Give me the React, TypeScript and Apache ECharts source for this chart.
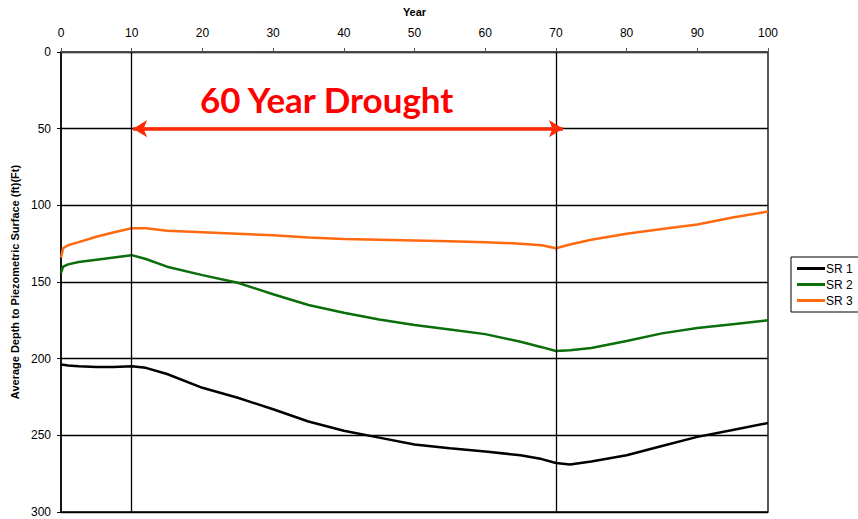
import React, { useEffect, useRef } from "react";
import * as echarts from "echarts";

const years = [0, 0.3, 1, 2.5, 5, 7.5, 10, 12, 15, 20, 25, 30, 35, 40, 45, 50, 55, 60, 65, 68, 70, 72, 75, 80, 85, 90, 95, 100];
const sr1 = [204, 204, 204.5, 205, 205.5, 205.5, 205, 206, 210, 219, 225.5, 233, 241, 247, 251.5, 256, 258.5, 260.5, 263, 265.5, 268, 269, 267, 263, 257, 251, 246.5, 242];
const sr2 = [144, 140, 138.5, 137, 135.5, 134, 132.5, 135, 140, 145.5, 150.5, 158, 165, 170, 174.5, 178, 181, 184, 189, 192.5, 195, 194.5, 193, 188.5, 183.5, 180, 177.5, 175];
const sr3 = [134, 128, 126, 124, 120.5, 117.5, 115, 115, 116.5, 117.5, 118.5, 119.5, 121, 122, 122.5, 123, 123.5, 124, 125, 126, 128, 125.5, 122.5, 118.5, 115.5, 112.5, 108, 104];
const seriesNames = ["SR 1", "SR 2", "SR 3"];
const seriesColors = ["#000000", "#0a6e0a", "#ff6a10"];
const droughtStart = 10;
const droughtEnd = 70;
const arrowLevel = 50;
const annotation = "60 Year Drought";

export default function App() {
  const ref = useRef<HTMLDivElement>(null);
  useEffect(() => {
    const chart = echarts.init(ref.current!, null, { renderer: "svg" });
    const all = [sr1, sr2, sr3];
    const series: any[] = all.map((vals, i) => ({
      name: seriesNames[i],
      type: "line",
      symbol: "none",
      data: years.map((y, k) => [y, vals[k]]),
      lineStyle: { color: seriesColors[i], width: 2.5 },
      itemStyle: { color: seriesColors[i] },
      z: 3,
    }));
    series.push({
      type: "line",
      data: [],
      markLine: {
        silent: true,
        symbol: "none",
        label: { show: false },
        lineStyle: { color: "#000", width: 1.3, type: "solid" },
        data: [{ xAxis: droughtStart }, { xAxis: droughtEnd }],
      },
      z: 2,
    });
    series.push({
      type: "line",
      data: [],
      markLine: {
        silent: true,
        symbol: ["arrow", "arrow"],
        symbolSize: [13, 14],
        label: { show: false },
        lineStyle: { color: "#ff2a00", width: 3.5, type: "solid" },
        data: [[{ coord: [droughtStart + 0.2, arrowLevel] }, { coord: [droughtEnd + 1, arrowLevel] }]],
      },
      z: 5,
    });
    chart.setOption({
      animation: false,
      backgroundColor: "#fff",
      grid: {
        left: 61,
        top: 52,
        right: 90,
        bottom: 7,
        show: true,
        borderColor: "#000",
        borderWidth: 1.3,
        containLabel: false,
        outerBoundsMode: "none",
      },
      legend: {
        data: seriesNames,
        orient: "vertical",
        left: 791,
        top: 257,
        borderColor: "#000",
        borderWidth: 1,
        padding: [5, 10, 5, 6],
        itemGap: 3,
        itemWidth: 28,
        itemHeight: 3,
        icon: "rect",
        textStyle: { fontFamily: "Liberation Sans", fontSize: 12, color: "#000", padding: [0, 0, 0, -4], lineHeight: 13 },
      },
      xAxis: {
        type: "value",
        position: "top",
        min: 0,
        max: 100,
        interval: 10,
        name: "Year",
        nameLocation: "middle",
        nameGap: 35,
        nameTextStyle: { fontFamily: "Liberation Sans", fontSize: 11, fontWeight: "bold", color: "#000" },
        axisLine: { show: true, lineStyle: { color: "#555", width: 1.5 } },
        axisTick: { show: true, inside: false, length: 4, lineStyle: { color: "#555" } },
        axisLabel: { fontFamily: "Liberation Sans", fontSize: 12, color: "#000", margin: 13 },
        splitLine: { show: false },
      },
      yAxis: {
        type: "value",
        inverse: true,
        min: 0,
        max: 300,
        interval: 50,
        name: "Average Depth to Piezometric Surface (ft)(Ft)",
        nameLocation: "middle",
        nameGap: 40,
        nameTextStyle: { fontFamily: "Liberation Sans", fontSize: 11, fontWeight: "bold", color: "#000" },
        axisLine: { show: true, lineStyle: { color: "#000", width: 1.5 } },
        axisTick: { show: true, length: 4, lineStyle: { color: "#000" } },
        axisLabel: { fontFamily: "Liberation Sans", fontSize: 12, color: "#000", margin: 10 },
        splitLine: { show: true, lineStyle: { color: "#000", width: 1.3 } },
      },
      graphic: [
        {
          type: "text",
          left: 200,
          top: 81,
          style: {
            text: annotation,
            fill: "#f00",
            font: "bold 35px Lato, 'Liberation Sans', sans-serif",
          },
        },
      ],
      series,
    });
    return () => chart.dispose();
  }, []);
  return <div ref={ref} style={{ width: 858, height: 519, position: "absolute", left: 0, top: 0 }} />;
}
